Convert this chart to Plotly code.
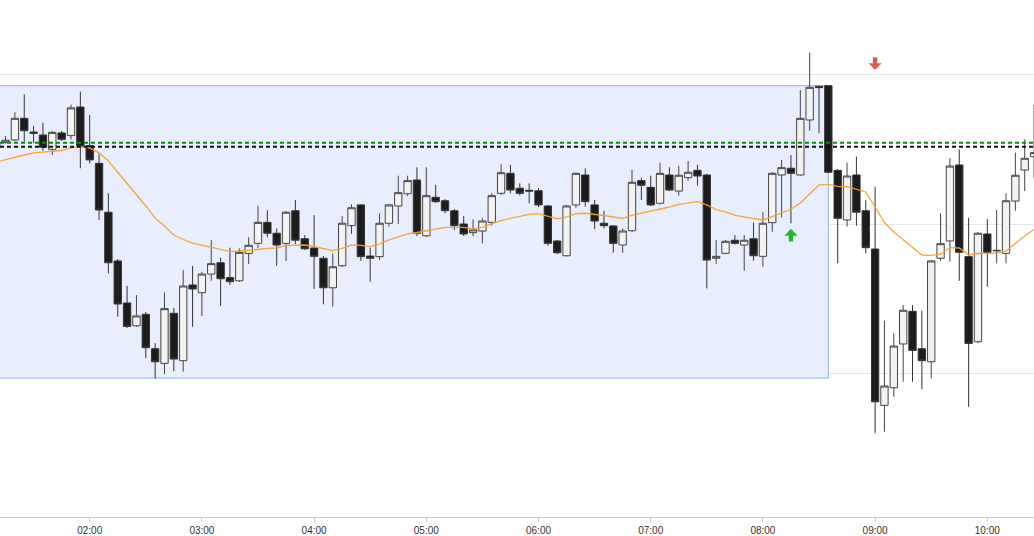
import pandas as pd
import plotly.graph_objects as go

# ---- data (5-minute candles) ----
times = pd.date_range("2024-03-12 01:10", periods=112, freq="5min")

opens = [2345.44, 2345.46, 2345.64, 2347.09, 2346.17, 2345.97, 2345.01, 2346.11, 2345.93, 2347.85,
         2345.26, 2344.07, 2340.79, 2337.52, 2334.70, 2333.17, 2333.94, 2331.63, 2330.65, 2334.01,
         2330.83, 2335.91, 2335.39, 2336.64, 2337.40, 2336.40, 2336.19, 2338.03, 2338.70, 2340.11,
         2339.38, 2338.70, 2340.89, 2339.01, 2338.39, 2337.70, 2335.72, 2337.20, 2339.89, 2341.28,
         2337.85, 2337.81, 2340.05, 2341.21, 2342.03, 2342.95, 2339.21, 2341.79, 2341.56, 2340.89,
         2340.00, 2339.42, 2339.53, 2340.11, 2342.06, 2343.40, 2342.40, 2342.26, 2342.23, 2341.21,
         2338.86, 2337.87, 2341.28, 2343.29, 2341.28, 2340.05, 2339.87, 2338.59, 2339.55, 2342.91,
         2342.46, 2341.39, 2343.29, 2342.21, 2343.11, 2343.60, 2343.29, 2337.70, 2338.03, 2338.91,
         2338.59, 2339.01, 2337.83, 2340.09, 2343.29, 2343.74, 2343.29, 2346.98, 2349.24, 2349.28,
         2343.60, 2340.27, 2343.29, 2340.89, 2338.32, 2327.83, 2329.01, 2331.95, 2334.14, 2331.63,
         2330.76, 2337.70, 2338.86, 2343.96, 2337.81, 2332.10, 2339.33, 2338.19, 2338.03, 2341.54,
         2343.62, 2344.52]

highs = [2345.57, 2345.91, 2347.50, 2348.70, 2346.60, 2346.80, 2346.24, 2346.24, 2348.01, 2348.88,
         2347.32, 2344.74, 2342.06, 2337.65, 2335.84, 2335.23, 2334.09, 2332.01, 2335.42, 2334.36,
         2336.91, 2337.18, 2336.80, 2338.93, 2337.74, 2338.41, 2338.37, 2339.11, 2341.23, 2340.92,
         2339.71, 2340.87, 2341.61, 2339.26, 2340.60, 2337.85, 2338.03, 2340.54, 2341.32, 2341.34,
         2338.41, 2340.72, 2341.34, 2343.24, 2343.24, 2343.81, 2343.81, 2342.62, 2341.68, 2341.01,
         2340.54, 2340.32, 2340.40, 2342.08, 2344.01, 2343.96, 2342.73, 2342.73, 2342.40, 2341.28,
         2338.93, 2341.28, 2343.44, 2343.74, 2341.61, 2340.89, 2339.93, 2339.71, 2343.62, 2343.11,
         2343.24, 2344.11, 2343.81, 2343.91, 2344.23, 2343.96, 2343.36, 2338.93, 2338.93, 2339.26,
         2339.26, 2340.09, 2340.79, 2343.49, 2344.30, 2344.63, 2348.99, 2351.50, 2349.26, 2349.30,
         2343.69, 2344.11, 2344.52, 2341.61, 2342.50, 2333.51, 2332.66, 2334.56, 2334.56, 2334.18,
         2337.58, 2340.72, 2344.41, 2345.01, 2340.42, 2339.46, 2340.32, 2340.94, 2342.06, 2344.79,
         2345.68, 2347.99]

lows = [2345.03, 2345.40, 2345.57, 2345.52, 2345.42, 2344.92, 2344.63, 2345.57, 2345.68, 2343.74,
        2344.07, 2340.27, 2336.69, 2333.78, 2333.02, 2333.09, 2330.99, 2329.64, 2329.93, 2330.13,
        2330.09, 2333.11, 2333.83, 2336.19, 2334.50, 2335.91, 2336.11, 2337.32, 2338.37, 2339.11,
        2337.20, 2337.52, 2338.66, 2338.26, 2335.64, 2334.61, 2334.45, 2337.11, 2339.33, 2337.52,
        2336.13, 2337.58, 2339.82, 2340.00, 2341.88, 2339.19, 2339.13, 2341.41, 2340.72, 2339.60,
        2339.19, 2339.19, 2338.70, 2339.89, 2341.95, 2342.06, 2341.90, 2341.39, 2341.14, 2338.54,
        2337.99, 2337.81, 2341.09, 2341.16, 2339.66, 2339.71, 2338.07, 2338.07, 2339.46, 2341.61,
        2341.21, 2341.31, 2342.21, 2341.90, 2342.91, 2342.57, 2335.68, 2337.32, 2337.99, 2338.62,
        2336.87, 2337.54, 2337.13, 2339.48, 2340.45, 2340.05, 2343.22, 2346.26, 2346.09, 2343.42,
        2337.36, 2339.82, 2339.89, 2338.03, 2325.95, 2326.06, 2328.41, 2329.42, 2329.42, 2328.91,
        2329.64, 2337.54, 2337.47, 2336.19, 2327.74, 2332.01, 2335.79, 2337.36, 2337.36, 2340.89,
        2342.21, 2343.07]

closes = [2345.17, 2345.62, 2347.09, 2346.26, 2346.09, 2345.15, 2346.15, 2345.68, 2347.79, 2345.19,
          2344.30, 2340.94, 2337.40, 2334.63, 2333.13, 2333.83, 2331.70, 2330.76, 2334.32, 2330.94,
          2335.84, 2335.64, 2336.64, 2337.34, 2336.33, 2336.13, 2338.10, 2338.57, 2340.11, 2339.38,
          2338.59, 2340.79, 2338.91, 2338.34, 2337.83, 2335.72, 2337.13, 2340.05, 2341.09, 2337.81,
          2337.70, 2340.05, 2341.28, 2342.10, 2342.91, 2339.38, 2341.90, 2341.50, 2340.89, 2339.89,
          2339.33, 2339.60, 2340.20, 2341.90, 2343.44, 2342.28, 2342.06, 2342.21, 2341.28, 2338.70,
          2338.07, 2341.21, 2343.40, 2341.50, 2340.20, 2339.89, 2338.70, 2339.53, 2342.80, 2342.60,
          2341.28, 2343.40, 2342.28, 2343.27, 2343.47, 2343.22, 2337.58, 2337.83, 2338.84, 2338.70,
          2338.91, 2337.87, 2340.05, 2343.40, 2343.78, 2343.40, 2347.09, 2349.17, 2349.15, 2343.47,
          2340.38, 2343.22, 2340.79, 2338.41, 2328.07, 2329.13, 2331.81, 2334.21, 2331.52, 2330.83,
          2337.52, 2338.68, 2343.89, 2338.10, 2331.99, 2339.38, 2338.10, 2338.23, 2341.56, 2343.27,
          2344.41, 2344.79]

moving_avg = [2344.16, 2344.33, 2344.50, 2344.63, 2344.77, 2344.83, 2344.90, 2344.93, 2345.10, 2345.19,
              2345.10, 2344.77, 2344.23, 2343.49, 2342.75, 2341.95, 2341.21, 2340.40, 2339.87, 2339.26,
              2338.96, 2338.72, 2338.56, 2338.42, 2338.29, 2338.15, 2338.19, 2338.21, 2338.29, 2338.37,
              2338.39, 2338.56, 2338.59, 2338.59, 2338.49, 2338.36, 2338.22, 2338.36, 2338.59, 2338.56,
              2338.48, 2338.66, 2338.93, 2339.13, 2339.33, 2339.43, 2339.53, 2339.66, 2339.78, 2339.78,
              2339.77, 2339.68, 2339.77, 2340.03, 2340.23, 2340.37, 2340.50, 2340.64, 2340.70, 2340.54,
              2340.34, 2340.47, 2340.70, 2340.72, 2340.67, 2340.57, 2340.47, 2340.38, 2340.60, 2340.74,
              2340.83, 2340.97, 2341.14, 2341.31, 2341.41, 2341.50, 2341.28, 2340.97, 2340.81, 2340.60,
              2340.47, 2340.37, 2340.27, 2340.50, 2340.74, 2340.99, 2341.41, 2342.05, 2342.62, 2342.66,
              2342.52, 2342.50, 2342.32, 2342.15, 2341.14, 2340.10, 2339.46, 2338.93, 2338.46, 2337.92,
              2337.89, 2337.97, 2338.42, 2338.39, 2337.92, 2338.02, 2338.03, 2338.03, 2338.19, 2338.72,
              2339.19, 2339.63]

# levels and markers
green_level = 2345.46
black_level = 2345.19
range_box_start = "2024-03-12 00:30"
range_box_end = "2024-03-12 08:35"
range_box_high = 2349.28
range_box_low = 2329.66
buy_signal_time = ["2024-03-12 08:15"]
buy_signal_price = [2339.66]
sell_signal_time = ["2024-03-12 09:00"]
sell_signal_price = [2350.35]
grid_levels = [2330, 2340, 2350]
x_view = ["2024-03-12 01:12:02", "2024-03-12 10:24:58"]
y_view = [2320.34, 2355.03]

fig = go.Figure()

fig.add_trace(go.Candlestick(
    x=times, open=opens, high=highs, low=lows, close=closes,
    increasing=dict(fillcolor="#f3f3f3", line=dict(color="#444444", width=1)),
    decreasing=dict(fillcolor="#1c1c1c", line=dict(color="#333333", width=1)),
    whiskerwidth=0, showlegend=False, hoverinfo="skip",
))

fig.add_trace(go.Scatter(
    x=times, y=moving_avg, mode="lines",
    line=dict(color="rgba(246,160,50,0.95)", width=1.3),
    showlegend=False, hoverinfo="skip",
))

# signal arrows (tip at the signal price)
for t, p in zip(buy_signal_time, buy_signal_price):
    fig.add_annotation(x=t, y=p, xref="x", yref="y", text="", showarrow=True,
                       ax=0, ay=14, arrowhead=1, arrowsize=0.5, arrowwidth=4.4,
                       arrowcolor="#22b922", standoff=0, startstandoff=0)
for t, p in zip(sell_signal_time, sell_signal_price):
    fig.add_annotation(x=t, y=p, xref="x", yref="y", text="", showarrow=True,
                       ax=0, ay=-14, arrowhead=1, arrowsize=0.5, arrowwidth=4.4,
                       arrowcolor="#e05a5a", standoff=0, startstandoff=0)

fig.add_shape(type="rect", xref="x", yref="y",
              x0=range_box_start, x1=range_box_end, y0=range_box_low, y1=range_box_high,
              fillcolor="#e8eefd", line=dict(color="#8db2f4", width=1), layer="between")

fig.add_shape(type="line", xref="paper", yref="y", x0=0, x1=1,
              y0=green_level, y1=green_level,
              line=dict(color="#0b8a0b", width=2, dash="4px,3px"))
fig.add_shape(type="line", xref="paper", yref="y", x0=0, x1=1,
              y0=black_level, y1=black_level,
              line=dict(color="#111111", width=2, dash="4px,3px"))

fig.update_layout(
    width=1034, height=536,
    margin=dict(l=0, r=0, t=0, b=19),
    paper_bgcolor="white", plot_bgcolor="white",
    boxgap=0.2, boxgroupgap=0.02,
    showlegend=False,
    xaxis=dict(
        range=x_view, type="date",
        rangeslider=dict(visible=False),
        tickformat="%H:%M", dtick=3600000, tick0="2024-03-12 00:00",
        showgrid=False, showline=True, linecolor="#cccccc", linewidth=1,
        ticks="outside", ticklen=4, tickcolor="#cccccc",
        tickfont=dict(family="Liberation Sans", size=10, color="#333333"),
        zeroline=False, fixedrange=True,
    ),
    yaxis=dict(
        range=y_view, tickvals=grid_levels, showticklabels=False,
        showgrid=True, gridcolor="#e6e6e6", gridwidth=1,
        zeroline=False, showline=False, fixedrange=True,
    ),
)

fig.write_html(
    "out.html",
    config={"displayModeBar": False},
    post_script="document.body.style.margin='0';document.body.style.overflow='hidden';",
)
